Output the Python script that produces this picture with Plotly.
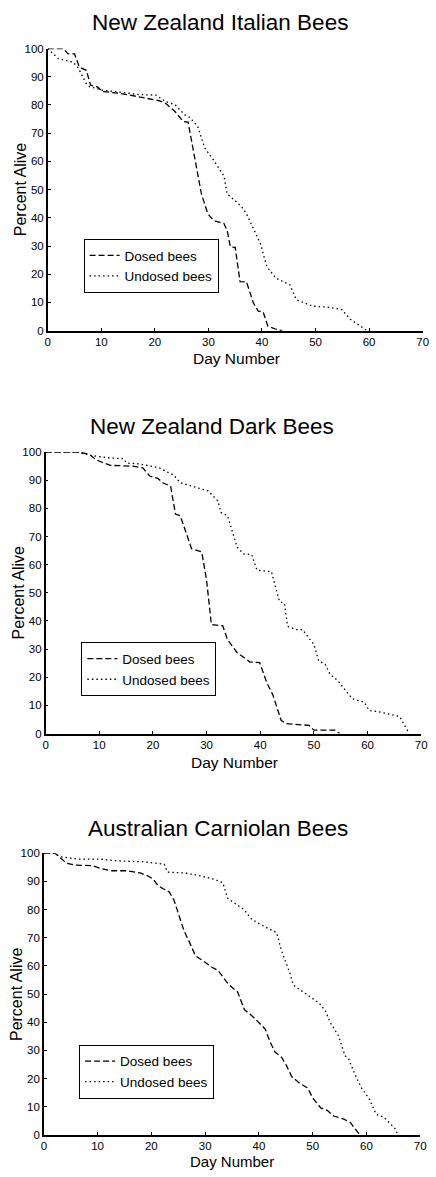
import plotly.graph_objects as go

W, H = 436, 1177

titles = ["New Zealand Italian Bees", "New Zealand Dark Bees", "Australian Carniolan Bees"]
series_names = ["Dosed bees", "Undosed bees"]
x_ticks = [0, 10, 20, 30, 40, 50, 60, 70]
y_ticks = [0, 10, 20, 30, 40, 50, 60, 70, 80, 90, 100]

# Panel 1: New Zealand Italian Bees
it_dosed_day = [0, 2.9, 3.8, 5.0, 5.9, 7.2, 8.0, 9.3, 10.2, 13.5, 17, 19.6, 20.8, 22, 23.8, 25.3, 26.2,
                28.7, 29.9, 31.0, 32.9, 33.5, 34.1, 35.0, 35.9, 37.1, 38.4, 39.3, 40.2, 41.1, 42.6, 43.8]
it_dosed_pct = [100, 100, 98.1, 98.1, 93.4, 92.3, 87, 86.4, 84.8, 84.1, 82.9, 82.1, 81.5, 80.6, 77.6, 74.1, 73.9,
                48.4, 41.4, 39, 38, 35.5, 29.7, 29.5, 17.4, 17.3, 9.8, 6.9, 6.7, 1.6, 0.5, 0]
it_undosed_day = [0, 2.0, 4.7, 5.6, 7.2, 7.8, 10.1, 14, 17, 20.2, 22, 23.8, 25.6, 26.5, 28, 29.3, 31.1, 32.9,
                  33.5, 35, 36.5, 37.1, 39.7, 40.9, 42.6, 45.2, 46.4, 49.4, 52.5, 54.9, 56.5, 58.4, 59.6]
it_undosed_pct = [100, 96.4, 95.2, 93.4, 87.6, 86.5, 85.3, 84.5, 83.7, 83.5, 81.2, 80, 76.5, 75.6, 72.4, 64.8,
                  60.1, 54.8, 48.4, 46.1, 43.2, 41.4, 30.9, 22.7, 18.6, 16.3, 11, 8.7, 8.3, 7.5, 4, 1.6, 0]

# Panel 2: New Zealand Dark Bees
dk_dosed_day = [0, 6.0, 8.1, 9.4, 10.9, 12.1, 16.3, 18.1, 19.4, 20.9, 21.8, 23.3, 24.2, 25.1, 27.2, 29.1,
                30.0, 30.9, 33.0, 33.9, 35.7, 38.1, 39.9, 41.2, 42.4, 43.9, 44.8, 46.7, 49.1, 50.0, 53.9, 54.8]
dk_dosed_pct = [100, 100, 99.3, 97.3, 96.1, 95.3, 95, 94.4, 91.5, 90.7, 89.1, 87.9, 78, 77.4, 65.7, 64.5,
                54.5, 38.7, 38.3, 33.4, 28.7, 25.4, 25.2, 18.2, 13.5, 4.7, 3.5, 3.2, 2.9, 1.2, 1.2, 0]
dk_undosed_day = [0, 6.0, 8.4, 12.1, 14.5, 15.1, 17.5, 19.4, 21.2, 22.4, 23.9, 25.1, 27.2, 30.3, 32.1, 32.7,
                  33.9, 35.7, 36.9, 38.4, 39.4, 42.1, 43.0, 43.6, 44.5, 45.1, 46.7, 47.9, 48.8, 50.0, 50.9,
                  52.1, 53.0, 54.5, 55.7, 57.2, 59.4, 60.3, 62.4, 64.8, 66.0, 66.9, 67.8]
dk_undosed_pct = [100, 100, 98.8, 97.9, 97.7, 96.1, 95.8, 95, 94.4, 93.2, 91.8, 89.1, 87.9, 86.2, 82.7, 78.5,
                  77.4, 66.2, 63.8, 63.6, 58, 57.5, 51, 46.9, 46.3, 38.1, 36.9, 36.9, 34.6, 31.7, 25.8,
                  24.6, 21.1, 18.7, 15.8, 12.3, 11.1, 8.2, 7.6, 6.4, 6, 2.9, 0]

# Panel 3: Australian Carniolan Bees
ca_dosed_day = [0, 2.1, 4.2, 5.8, 9.1, 10.6, 12.4, 15.4, 17.9, 19.2, 20.3, 21.2, 22.1, 23.3, 24.2, 25.1,
                26.1, 27.0, 28.2, 30.0, 31.2, 32.4, 34.2, 35.4, 36.0, 37.3, 39.1, 41.2, 42.1, 43.0, 44.2,
                45.1, 46.1, 47.6, 49.1, 50.0, 51.5, 52.7, 53.9, 55.8, 57.0, 57.9, 58.8]
ca_dosed_pct = [100, 100, 96.5, 95.8, 95.6, 94.6, 93.8, 93.8, 93, 92.1, 90.9, 88.6, 87.5, 86.3, 83.4, 78.2,
                72.3, 68.8, 63.6, 61.3, 59.6, 58.4, 53.8, 51.7, 50.9, 44.5, 41.6, 37.5, 32.9, 29.4, 27.6,
                24.7, 20.7, 18.3, 16.6, 13.1, 9.6, 8.7, 6.7, 5.6, 4.4, 2.1, 0]
ca_undosed_day = [0, 1.8, 3.3, 6.4, 10.6, 13.6, 18.5, 20.9, 22.4, 23.0, 26.4, 28.8, 31.8, 33.3, 34.2, 36.0,
                  37.3, 38.5, 40.3, 43.3, 44.2, 45.8, 46.4, 47.3, 49.4, 51.2, 52.4, 53.3, 54.8, 55.4, 56.0,
                  56.7, 57.9, 59.1, 60.6, 61.8, 63.3, 64.5, 65.4, 65.8]
ca_undosed_pct = [100, 100, 98.7, 97.9, 97.9, 97.3, 97, 96.4, 96.1, 93.3, 93, 92.1, 90.7, 89.5, 84, 81.6,
                  79.9, 76.8, 74.7, 71.8, 65.4, 57.2, 53.2, 52, 49.1, 46.8, 43.9, 39.8, 35.2, 31.7, 28.2,
                  26.9, 21.3, 16.6, 12.5, 7.3, 6.2, 3.8, 2.1, 0]

panels = [
    (it_dosed_day, it_dosed_pct, it_undosed_day, it_undosed_pct),
    (dk_dosed_day, dk_dosed_pct, dk_undosed_day, dk_undosed_pct),
    (ca_dosed_day, ca_dosed_pct, ca_undosed_day, ca_undosed_pct),
]

# layout geometry in pixels: (x_left, x_right, y_top, y_bottom)
boxes = [(45.7, 428.5, 43, 328), (43.5, 427, 450.7, 735), (41.7, 426, 856, 1140.5)]
title_pos = [(221.7, 17), (213, 425), (220, 831)]
xlab_pos = [(238, 356), (236, 764), (234, 1177)]
xlab_anchor = ["middle", "middle", "bottom"]
xlab_size = [15.5, 15.5, 15]
ylab_pos = [(18, 185.5), (16, 592.8), (14, 998.5)]
legend_pos = [(82.3, 235.5), (80, 643), (77.7, 1049.5)]

FONT = "Liberation Sans, Arial, Helvetica, sans-serif"

fig = go.Figure()
layout = dict(
    width=W, height=H, margin=dict(l=0, r=0, t=0, b=0),
    paper_bgcolor="white", plot_bgcolor="white",
    font=dict(family=FONT, color="black"),
    annotations=[],
)

def px_x(p):
    return p / W

def px_y(p):
    return 1 - p / H

for i, (dd, dp, ud, up) in enumerate(panels):
    n = "" if i == 0 else str(i + 1)
    xa, ya = "x" + n, "y" + n
    leg = "legend" + n
    fig.add_trace(go.Scatter(x=dd, y=dp, mode="lines", name=series_names[0], xaxis=xa, yaxis=ya,
                             legend=leg, line=dict(color="black", width=1.3, dash="6px,3px")))
    fig.add_trace(go.Scatter(x=ud, y=up, mode="lines", name=series_names[1], xaxis=xa, yaxis=ya,
                             legend=leg, line=dict(color="black", width=1.3, dash="1.5px,3px")))
    x0, x1, y0, y1 = boxes[i]
    layout["xaxis" + n] = dict(
        domain=[px_x(x0), px_x(x1)], range=[0, 70], anchor=ya, tickvals=x_ticks,
        showline=True, linecolor="black", linewidth=1.5, ticks="inside", ticklen=3,
        tickcolor="black", showgrid=False, zeroline=False, tickfont=dict(size=11.5, color="black"),
        fixedrange=True,
    )
    layout["yaxis" + n] = dict(
        domain=[px_y(y1), px_y(y0)], range=[0, 100], anchor=xa, tickvals=y_ticks,
        showline=True, linecolor="black", linewidth=1.5, ticks="inside", ticklen=3,
        tickcolor="black", showgrid=False, zeroline=False, tickfont=dict(size=11.5, color="black"),
        fixedrange=True,
    )
    lx, ly = legend_pos[i]
    layout[leg] = dict(
        x=px_x(lx), y=px_y(ly), xanchor="left", yanchor="top",
        bordercolor="black", borderwidth=1, bgcolor="white",
        font=dict(size=13.5, color="black", family=FONT), itemwidth=30, tracegroupgap=0,
    )
    tx, ty = title_pos[i]
    layout["annotations"].append(dict(text=titles[i], x=px_x(tx), y=px_y(ty), xref="paper", yref="paper",
                                      showarrow=False, xanchor="center", yanchor="middle",
                                      font=dict(size=22.5, color="black")))
    bx, by = xlab_pos[i]
    layout["annotations"].append(dict(text="Day Number", x=px_x(bx), y=px_y(by), xref="paper", yref="paper",
                                      showarrow=False, xanchor="center", yanchor=xlab_anchor[i],
                                      font=dict(size=xlab_size[i], color="black"), borderpad=0))
    vx, vy = ylab_pos[i]
    layout["annotations"].append(dict(text="Percent Alive", x=px_x(vx), y=px_y(vy), xref="paper", yref="paper",
                                      showarrow=False, xanchor="center", yanchor="middle", textangle=-90,
                                      font=dict(size=16, color="black")))

fig.update_layout(**layout)
fig.write_html("out.html", config={"displayModeBar": False},
               post_script="document.body.style.margin='0';")
